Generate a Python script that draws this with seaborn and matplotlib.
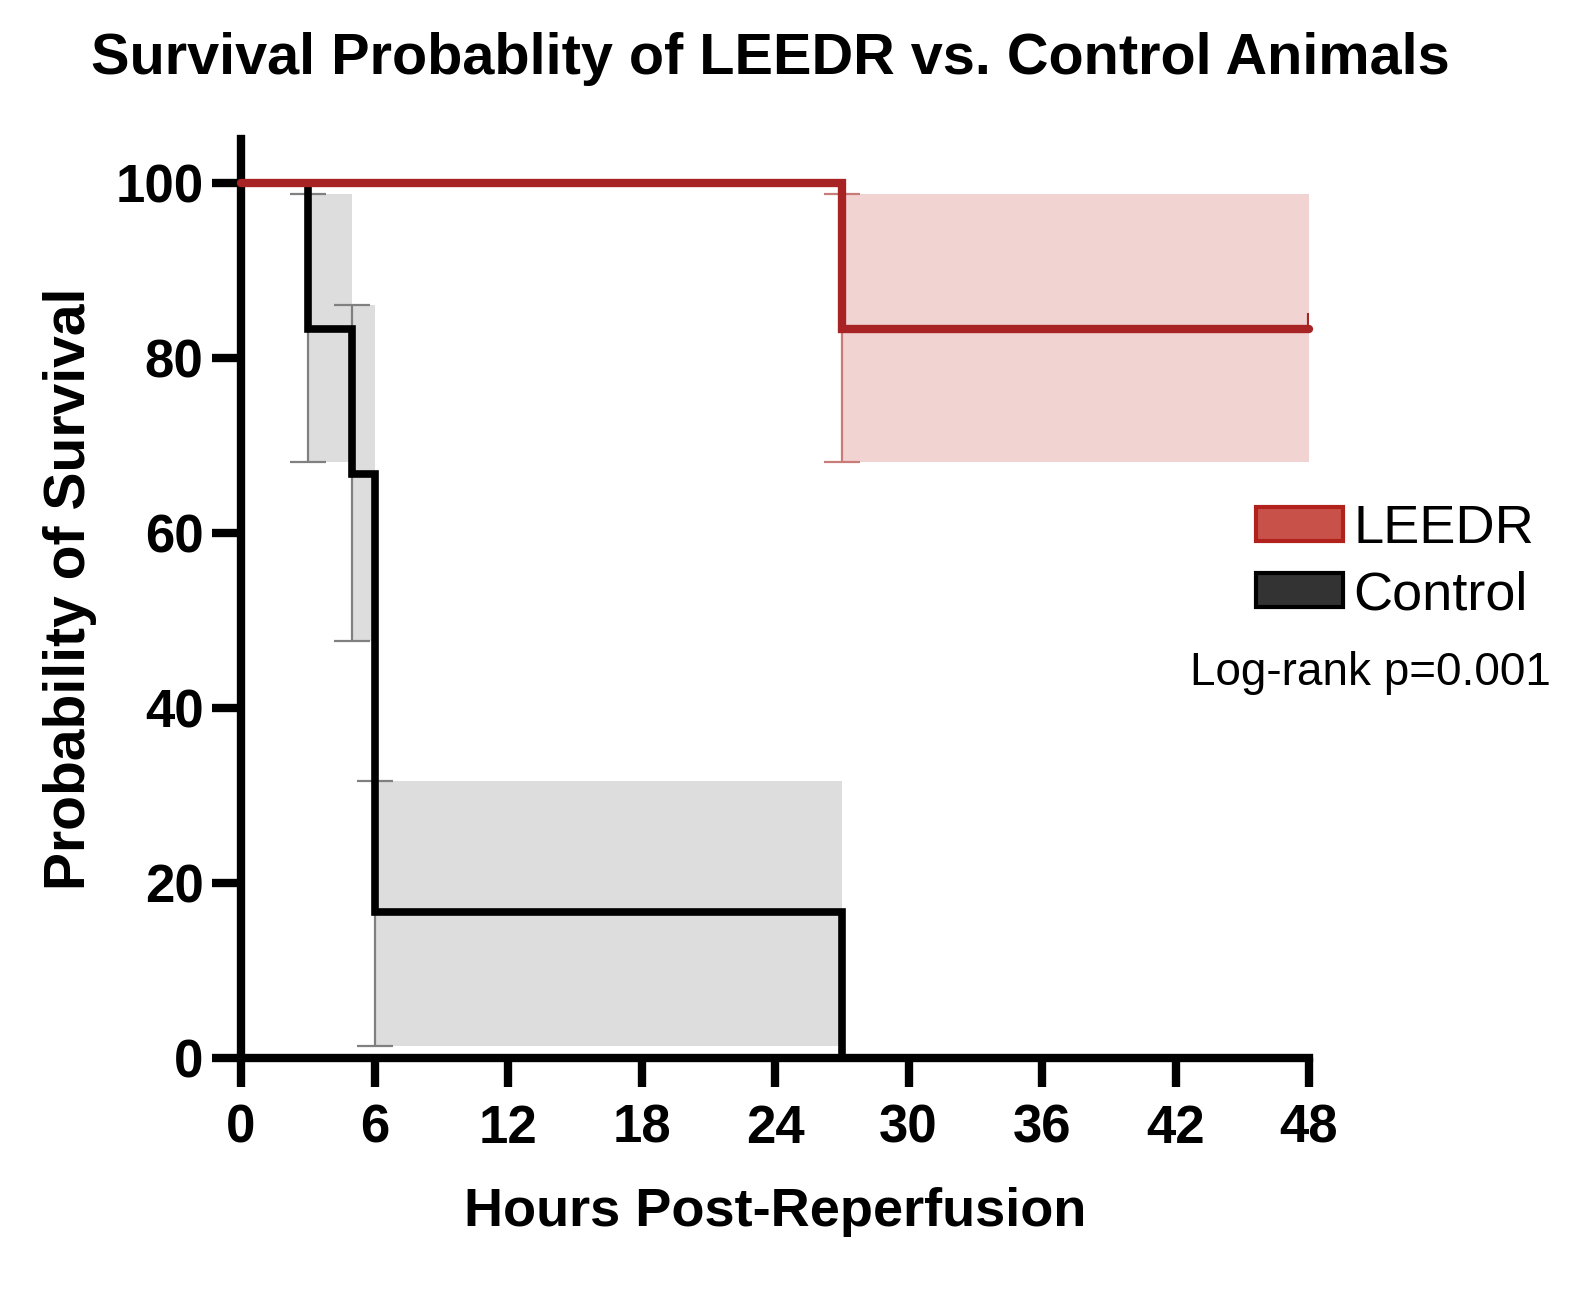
import numpy as np
import pandas as pd
import matplotlib
matplotlib.use("Agg")
import matplotlib.pyplot as plt
from matplotlib.patches import Patch
import seaborn as sns

# Courbes de survie (Kaplan-Meier), en %
leedr_t = [0, 27, 48]
leedr_s = [100, 83.3, 83.3]
control_t = [0, 3, 5, 6, 27]
control_s = [100, 83.3, 66.7, 16.7, 0]

# Intervalles de confiance (bandes + barres a chaque chute)
leedr_ci_t = [27, 48]
leedr_ci_lo = [68.1, 68.1]
leedr_ci_hi = [98.7, 98.7]
control_ci_t = [3, 5, 6, 27]
control_ci_lo = [68.1, 47.6, 1.4, 1.4]
control_ci_hi = [98.7, 86.0, 31.7, 31.7]

# Animaux censures
leedr_censor_t = [48]

x_ticks = list(range(0, 49, 6))
y_ticks = list(range(0, 101, 20))

RED = "#a82424"
RED_FILL = "#f1d3d2"
RED_BAR = "#c97b78"
GREY_FILL = "#dddddd"
GREY_BAR = "#808080"

sns.set_style("ticks")
plt.rcParams["font.family"] = ["Liberation Sans", "DejaVu Sans"]
plt.rcParams["text.color"] = "black"
plt.rcParams["axes.labelcolor"] = "black"
plt.rcParams["xtick.color"] = "black"
plt.rcParams["ytick.color"] = "black"

fig = plt.figure(figsize=(15.92, 12.92), dpi=100)
ax = fig.add_axes([241 / 1592, 1 - 1058 / 1292, 1068 / 1592, 919 / 1292])

# Bandes de confiance
ax.fill_between(control_ci_t, control_ci_lo, control_ci_hi, step="post",
                color=GREY_FILL, linewidth=0, zorder=1)
ax.fill_between(leedr_ci_t, leedr_ci_lo, leedr_ci_hi, step="post",
                color=RED_FILL, linewidth=0, zorder=1)

# Barres d'erreur aux instants de chute
lo = np.array(control_ci_lo[:-1])
hi = np.array(control_ci_hi[:-1])
ax.errorbar(control_ci_t[:-1], lo, yerr=[np.zeros_like(lo), hi - lo], fmt="none",
            ecolor=GREY_BAR, elinewidth=1.6, capsize=13, capthick=1.6, zorder=2)
lo = np.array(leedr_ci_lo[:-1])
hi = np.array(leedr_ci_hi[:-1])
ax.errorbar(leedr_ci_t[:-1], lo, yerr=[np.zeros_like(lo), hi - lo], fmt="none",
            ecolor=RED_BAR, elinewidth=1.6, capsize=13, capthick=1.6, zorder=2)

# Courbes en escalier
df_c = pd.DataFrame({"t": control_t, "s": control_s})
df_l = pd.DataFrame({"t": leedr_t, "s": leedr_s})
sns.lineplot(data=df_c, x="t", y="s", ax=ax, color="black", linewidth=5.5,
             drawstyle="steps-post", solid_joinstyle="miter", zorder=3, clip_on=False)
sns.lineplot(data=df_l, x="t", y="s", ax=ax, color=RED, linewidth=6,
             drawstyle="steps-post", solid_joinstyle="miter", zorder=4, clip_on=False)
ax.vlines(leedr_censor_t, leedr_s[-1], leedr_s[-1] + 1.8, color=RED,
          linewidth=3, zorder=4)

ax.set_xlim(0, 48)
ax.set_ylim(0, 105)
ax.set_xticks(x_ticks)
ax.set_yticks(y_ticks)
sns.despine(ax=ax)
for side in ["left", "bottom"]:
    ax.spines[side].set_linewidth(6)
    ax.spines[side].set_color("black")
ax.tick_params(axis="both", length=21, width=6, labelsize=38, color="black")
ax.tick_params(axis="x", pad=12)
ax.tick_params(axis="y", pad=6)
for lbl in ax.get_xticklabels() + ax.get_yticklabels():
    lbl.set_fontweight("bold")

ax.set_xlabel("Hours Post-Reperfusion", fontsize=39, fontweight="bold")
ax.set_ylabel("Probability of Survival", fontsize=41, fontweight="bold")
ax.xaxis.set_label_coords(0.5, -0.14)
ax.yaxis.set_label_coords(-0.135, 0.51)

fig.text(770 / 1592, 1 - 74 / 1292, "Survival Probablity of LEEDR vs. Control Animals",
         fontsize=41.5, fontweight="bold", ha="center", va="baseline")

handles = [Patch(facecolor="#c8524a", edgecolor="#b2221c", linewidth=3, label="LEEDR"),
           Patch(facecolor="#333333", edgecolor="black", linewidth=3, label="Control")]
fig.legend(handles=handles, loc="center left", bbox_to_anchor=(1256 / 1592, 1 - 562 / 1292),
           frameon=False, fontsize=39, handlelength=1.6, handleheight=0.6,
           handletextpad=0.2, labelspacing=0.3, borderpad=0, borderaxespad=0)

fig.text(1190 / 1592, 1 - 673 / 1292, "Log-rank p=0.001", fontsize=33,
         ha="left", va="center")

plt.savefig("out.png", dpi=100)
plt.close()
